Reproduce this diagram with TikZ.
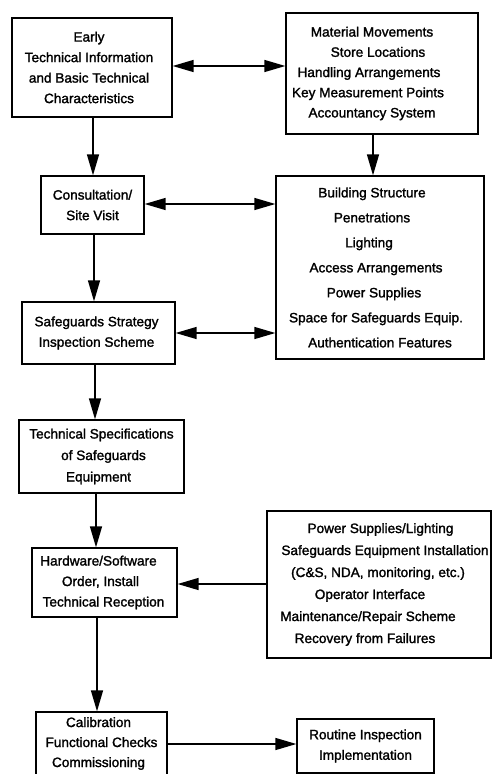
\documentclass[tikz,border=0pt]{standalone}
\usepackage{fontspec}
\setmainfont{Liberation Sans}[FakeBold=1.6]
\usetikzlibrary{arrows.meta}
% shift one line of a centred block sideways without changing its width
\newcommand\nudge[2]{\hbox{\kern#1\relax#2\kern-#1\relax}}
\begin{document}
\begin{tikzpicture}[x=1pt,y=-1pt,
  box/.style={draw, line width=1.3pt, inner sep=0pt, align=center,
    font=\fontsize{13.6}{20.5}\selectfont},
  tip/.style={line width=1.4pt},
  arr/.style={tip, -{Triangle[length=21pt,width=12pt]}},
  darr/.style={tip, {Triangle[length=21pt,width=12pt]}-{Triangle[length=21pt,width=12pt]}}]
\useasboundingbox (0,0) rectangle (493,774);

% left column
\node[box, minimum width=160pt, minimum height=99pt] (early) at (92,67.5)
  {\nudge{-3pt}{Early}\\ \nudge{-3pt}{Technical Information}\\ \nudge{-3pt}{and Basic Technical}\\ \nudge{-3pt}{Characteristics}};
\node[box, minimum width=103pt, minimum height=58pt] (consult) at (92.5,205)
  {Consultation/\\Site Visit};
\node[box, minimum width=153pt, minimum height=62pt] (safe) at (98.5,333)
  {\nudge{-2pt}{Safeguards Strategy}\\ \nudge{-2pt}{Inspection Scheme}};
\node[box, minimum width=165pt, minimum height=73pt,
  font=\fontsize{13.6}{21.5}\selectfont] (tech) at (101.5,456.5)
  {Technical Specifications\\ \nudge{2pt}{of Safeguards}\\ \nudge{-3pt}{Equipment}};
\node[box, minimum width=145pt, minimum height=69pt] (hw) at (104.5,582.5)
  {\nudge{-6pt}{Hardware/Software}\\ \nudge{-4pt}{Order, Install}\\ \nudge{-1pt}{Technical Reception}};
\node[box, minimum width=131pt, minimum height=63pt,
  font=\fontsize{13.6}{20}\selectfont] (calib) at (101.5,743.5)
  {\nudge{-3pt}{Calibration}\\Functional Checks\\ \nudge{-3pt}{Commissioning}};

% right column
\node[box, minimum width=192pt, minimum height=121pt,
  font=\fontsize{13.6}{20.2}\selectfont] (mat) at (382,73.5)
  {\nudge{-10pt}{Material Movements}\\ \nudge{-4pt}{Store Locations}\\ \nudge{-13pt}{Handling Arrangements}\\ \nudge{-14pt}{Key Measurement Points}\\ \nudge{-10pt}{Accountancy System}};
\node[box, minimum width=208pt, minimum height=183pt,
  font=\fontsize{13.6}{25}\selectfont] (build) at (380,267.5)
  {\nudge{-8pt}{Building Structure}\\ \nudge{-8pt}{Penetrations}\\ \nudge{-11pt}{Lighting}\\ \nudge{-4pt}{Access Arrangements}\\ \nudge{-6pt}{Power Supplies}\\ \nudge{-4pt}{Space for Safeguards Equip.}\\ Authentication Features};
\node[box, minimum width=224pt, minimum height=147pt,
  font=\fontsize{13.6}{22}\selectfont] (power) at (379,584.5)
  {\nudge{1.5pt}{Power Supplies/Lighting}\\ \nudge{6pt}{Safeguards Equipment Installation}\\ \nudge{-1pt}{(C\&S, NDA, monitoring, etc.)}\\ \nudge{-9pt}{Operator Interface}\\ \nudge{-11pt}{Maintenance/Repair Scheme}\\ \nudge{-14pt}{Recovery from Failures}};
\node[box, minimum width=137pt, minimum height=54pt] (routine) at (365.5,746)
  {Routine Inspection\\Implementation};

% connectors
\draw[darr] ([yshift=1.5pt]early.east) -- ([yshift=7.5pt]mat.west);
\draw[arr] ([xshift=-9pt]mat.south) -- ([xshift=-7pt]build.north);
\draw[arr] ([xshift=1pt]early.south) -- ([xshift=0.5pt]consult.north);
\draw[darr] ([yshift=1pt]consult.east) -- ([yshift=63.5pt]build.west);
\draw[arr] ([xshift=1.5pt]consult.south) -- ([xshift=-4.5pt]safe.north);
\draw[darr] (safe.east) -- ([yshift=-65.5pt]build.west);
\draw[arr] ([xshift=-3.5pt]safe.south) -- ([xshift=-6.5pt]tech.north);
\draw[arr] ([xshift=-5.5pt]tech.south) -- ([xshift=-8.5pt]hw.north);
\draw[arr] ([yshift=0.5pt]power.west) -- ([yshift=-1.5pt]hw.east);
\draw[arr] ([xshift=-7.5pt]hw.south) -- ([xshift=-4.5pt]calib.north);
\draw[arr] ([yshift=-0.5pt]calib.east) -- ([yshift=2pt]routine.west);
\end{tikzpicture}
\end{document}
